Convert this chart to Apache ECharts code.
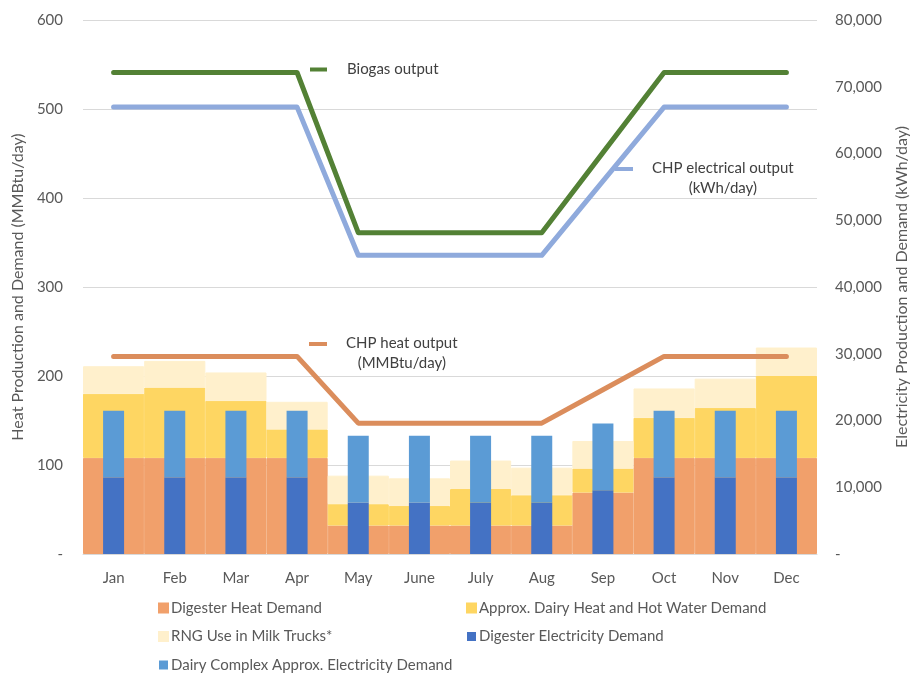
<!DOCTYPE html>
<html>
<head>
<meta charset="utf-8">
<title>Heat and Electricity Production and Demand</title>
<script src="https://cdn.jsdelivr.net/npm/echarts@6/dist/echarts.min.js"></script>
<style>
    html, body { margin: 0; padding: 0; background: #ffffff; }
    #main { width: 914px; height: 675px; }
</style>
</head>
<body>
<div id="main"></div>
<script>
// 类目 (月份)
var months = ['Jan', 'Feb', 'Mar', 'Apr', 'May', 'June', 'July', 'Aug', 'Sep', 'Oct', 'Nov', 'Dec'];

// 热量需求 (MMBtu/day) - 宽柱堆叠
var digesterHeat = [108, 108, 108, 108, 32, 32, 32, 32, 69, 108, 108, 108];
var dairyHeat = [72, 79, 64, 32, 24, 22, 41, 34, 27, 45, 56, 92];
var rngTrucks = [31, 30, 32, 31, 32, 31, 32, 31, 31, 33, 33, 32];

// 电力需求 (kWh/day) - 窄柱堆叠
var digesterElec = [11450, 11450, 11450, 11450, 7700, 7700, 7700, 7700, 9560, 11450, 11450, 11450];
var dairyElec = [10000, 10000, 10000, 10000, 10000, 10000, 10000, 10000, 10000, 10000, 10000, 10000];

// 产出曲线
var biogasOut = [541, 541, 541, 541, 361, 361, 361, 361, 451, 541, 541, 541];
var chpElecOut = [66950, 66950, 66950, 66950, 44750, 44750, 44750, 44750, 55850, 66950, 66950, 66950];
var chpHeatOut = [222, 222, 222, 222, 147, 147, 147, 147, 184.5, 222, 222, 222];

// 坐标轴刻度
var heatTicks = {min: 0, max: 600, interval: 100};
var elecTicks = {min: 0, max: 80000, interval: 10000};

var FONT = 'Lato, "Open Sans", sans-serif';
var TEXT_COLOR = '#595959';
var LABEL_COLOR = '#404040';

var chart = echarts.init(document.getElementById('main'), null, {renderer: 'canvas'});

/**
 * 折线图例: 短横线 + 文字 (图标与第一行文字对齐)
 */
function lineLegend(name, left, top, iconPath, lines) {
    return {
        left: left,
        top: top,
        padding: 0,
        selectedMode: false,
        itemWidth: 32,
        itemHeight: lines > 1 ? 23 : 4,
        itemStyle: {borderWidth: 0},
        data: [{name: name, icon: iconPath}],
        formatter: function (n) {
            if (n === 'CHP electrical output') {
                return '{a|CHP electrical output}\n{b|(kWh/day)}';
            }
            if (n === 'CHP heat output') {
                return '{a|CHP heat output}\n{b|(MMBtu/day)}';
            }
            return '{a|' + n + '}';
        },
        textStyle: {
            color: LABEL_COLOR,
            fontFamily: FONT,
            fontSize: 15,
            rich: {
                a: {color: LABEL_COLOR, fontFamily: FONT, fontSize: 15, lineHeight: 20},
                b: {color: LABEL_COLOR, fontFamily: FONT, fontSize: 15, lineHeight: 20, align: 'center'}
            }
        }
    };
}

var iconOneLine = 'path://M0,0H17V4H0Z M32,4H31.99V3.99Z';
var iconTwoLine = 'path://M0,0H18V4H0Z M32,23H31.99V22.99Z';

var bottomLegendBase = {
    padding: 0,
    orient: 'vertical',
    selectedMode: false,
    icon: 'rect',
    itemWidth: 9,
    itemHeight: 9,
    itemGap: 10.5,
    textStyle: {color: TEXT_COLOR, fontFamily: FONT, fontSize: 15, lineHeight: 18, padding: [0, 0, 0, -2]}
};

// 宽柱: 用同色描边消除相邻柱之间的缝隙
function wideBar(name, color, values) {
    return {
        name: name, type: 'bar', stack: 'heat', xAxisIndex: 0, yAxisIndex: 0,
        barWidth: '100%', barCategoryGap: '0%',
        itemStyle: {color: color, borderColor: color, borderWidth: 1},
        data: values, z: 1
    };
}

function narrowBar(name, color, values) {
    return {
        name: name, type: 'bar', stack: 'elec', xAxisIndex: 1, yAxisIndex: 1,
        barWidth: 21, itemStyle: {color: color}, data: values, z: 3
    };
}

function outputLine(name, color, axis, values) {
    return {
        name: name, type: 'line', xAxisIndex: 0, yAxisIndex: axis, showSymbol: false, symbol: 'none',
        lineStyle: {color: color, width: 5, cap: 'round', join: 'round'}, itemStyle: {color: color},
        data: values, z: 5
    };
}

var option = {
    animation: false,
    backgroundColor: '#ffffff',
    grid: {left: 83, right: 97, top: 20, bottom: 121, containLabel: false, outerBoundsMode: 'none'},
    legend: [
        lineLegend('Biogas output', 310, 62, iconOneLine, 1),
        lineLegend('CHP electrical output', 615, 161, iconTwoLine, 2),
        lineLegend('CHP heat output', 309, 336, iconTwoLine, 2),
        $extend(bottomLegendBase, {left: 158, top: 599,
            data: ['Digester Heat Demand', 'RNG Use in Milk Trucks*', 'Dairy Complex Approx. Electricity Demand']}),
        $extend(bottomLegendBase, {left: 466, top: 599,
            data: ['Approx. Dairy Heat and Hot Water Demand', 'Digester Electricity Demand']})
    ],
    xAxis: [{
        type: 'category',
        data: months,
        boundaryGap: true,
        axisLine: {show: true, lineStyle: {color: '#D9D9D9'}},
        axisTick: {show: false},
        axisLabel: {color: TEXT_COLOR, fontFamily: FONT, fontSize: 15, margin: 17}
    }, {
        type: 'category',
        data: months,
        show: false
    }],
    yAxis: [{
        type: 'value',
        min: heatTicks.min,
        max: heatTicks.max,
        interval: heatTicks.interval,
        name: 'Heat Production and Demand (MMBtu/day)',
        nameLocation: 'middle',
        nameGap: 54,
        nameTextStyle: {color: TEXT_COLOR, fontFamily: FONT, fontSize: 16},
        axisLine: {show: false},
        axisTick: {show: false},
        splitLine: {lineStyle: {color: '#D9D9D9'}},
        axisLabel: {
            color: TEXT_COLOR, fontFamily: FONT, fontSize: 15, margin: 20,
            formatter: function (v) { return v === 0 ? '-' : String(v); }
        }
    }, {
        type: 'value',
        position: 'right',
        min: elecTicks.min,
        max: elecTicks.max,
        interval: elecTicks.interval,
        name: 'Electricity Production and Demand (kWh/day)',
        nameLocation: 'middle',
        nameGap: 77,
        nameTextStyle: {color: TEXT_COLOR, fontFamily: FONT, fontSize: 16},
        axisLine: {show: false},
        axisTick: {show: false},
        splitLine: {show: false},
        axisLabel: {
            color: TEXT_COLOR, fontFamily: FONT, fontSize: 15, margin: 18,
            formatter: function (v) {
                return v === 0 ? '-' : String(v).replace(/\B(?=(\d{3})+(?!\d))/g, ',');
            }
        }
    }],
    series: [
        wideBar('Digester Heat Demand', '#F1A06B', digesterHeat),
        wideBar('Approx. Dairy Heat and Hot Water Demand', '#FED662', dairyHeat),
        wideBar('RNG Use in Milk Trucks*', '#FFF0CC', rngTrucks),
        narrowBar('Digester Electricity Demand', '#4472C4', digesterElec),
        narrowBar('Dairy Complex Approx. Electricity Demand', '#5B9BD5', dairyElec),
        outputLine('Biogas output', '#538135', 0, biogasOut),
        outputLine('CHP electrical output', '#8FAADC', 1, chpElecOut),
        outputLine('CHP heat output', '#DB8D5C', 0, chpHeatOut)
    ]
};

chart.setOption(option);

// 简单的浅拷贝合并
function $extend(base, extra) {
    var out = {};
    var k;
    for (k in base) { out[k] = base[k]; }
    for (k in extra) { out[k] = extra[k]; }
    return out;
}
</script>
</body>
</html>
